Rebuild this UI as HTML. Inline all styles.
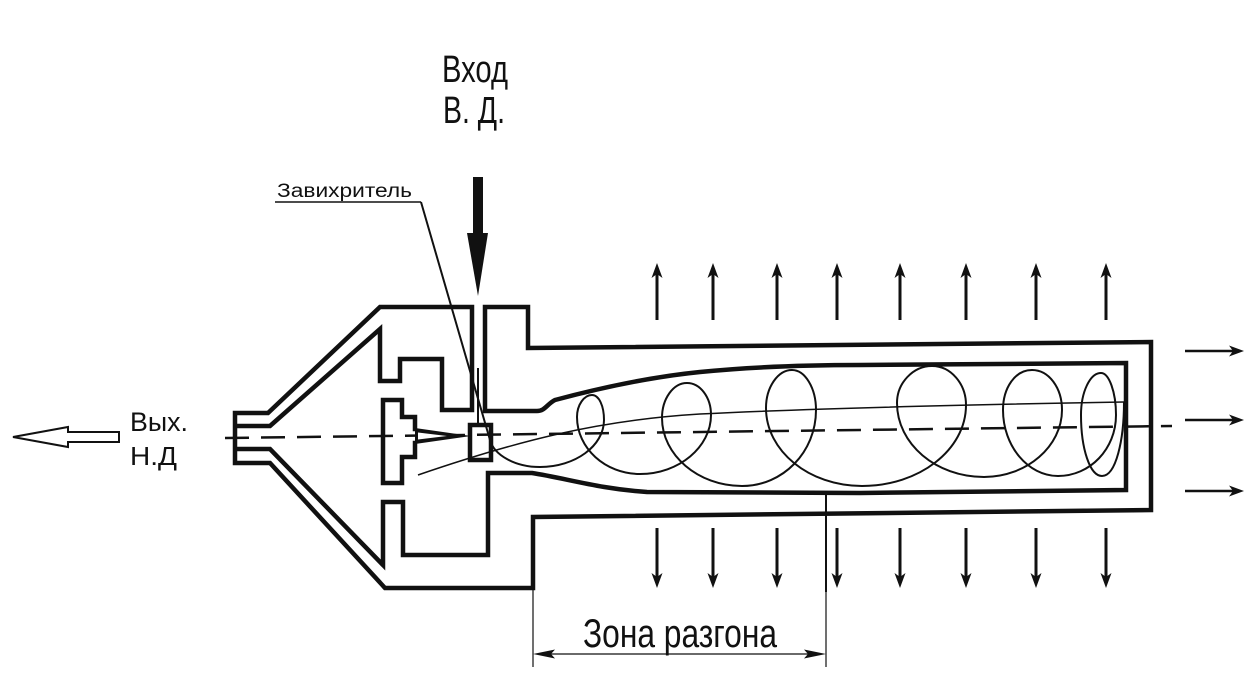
<!DOCTYPE html>
<html>
<head>
<meta charset="utf-8">
<style>
  html, body { margin:0; padding:0; background:#fff; }
  body { width:1246px; height:687px; overflow:hidden; }
  svg { display:block; }
  .gost { font-family: "Liberation Sans Narrow", "Liberation Sans", "DejaVu Sans", sans-serif; fill:#111; }
  .ar { font-family: "Liberation Sans", "DejaVu Sans", sans-serif; fill:#111; }
</style>
</head>
<body>
<svg width="1246" height="687" viewBox="0 0 1246 687" xmlns="http://www.w3.org/2000/svg">
  <rect width="1246" height="687" fill="#fff"/>

  <!-- Labels -->
  <text class="gost" x="442" y="82" font-size="38" textLength="66" lengthAdjust="spacingAndGlyphs">Вход</text>
  <text class="gost" x="443" y="123" font-size="38" textLength="62" lengthAdjust="spacingAndGlyphs">В. Д.</text>
  <text class="ar" x="277" y="197" font-size="19" textLength="135" lengthAdjust="spacingAndGlyphs">Завихритель</text>
  <text class="ar" x="130" y="431" font-size="27" textLength="58" lengthAdjust="spacingAndGlyphs">Вых.</text>
  <text class="ar" x="130" y="465" font-size="26" textLength="47" lengthAdjust="spacingAndGlyphs">Н.Д</text>
  <text class="gost" x="583" y="647" font-size="40" textLength="194" lengthAdjust="spacingAndGlyphs">Зона разгона</text>

  <!-- Hollow output arrow -->
  <polygon points="13,437 68,427 68,432 119,432 119,442 68,442 68,447" fill="#fff" stroke="#111" stroke-width="2" stroke-linejoin="miter"/>

  <!-- Thick input arrow -->
  <rect x="473" y="177" width="10" height="58" fill="#111"/>
  <polygon points="467,233 488,233 478,296" fill="#111"/>

  <!-- Dashed axis -->
  <line x1="225" y1="438" x2="1172" y2="426" stroke="#111" stroke-width="2.5" stroke-dasharray="24 12"/>

  <!-- Main body outline -->
  <g fill="none" stroke="#111" stroke-width="4.5" stroke-linejoin="miter" stroke-linecap="square">
    <path d="M235,426 L270,426 L380,329 L380,381 L400,381 L400,359 L442,359 L442,410 L472,410 L472,307 L380,307 L268,413 L235,413 L235,463 L270,463 L385,588 L533,588 L533,517 L1151,510 L1151,342 L528,348 L528,307 L485,307 L485,411 L537,411 C545,411 547,404 555,400 C600,388 650,377 700,372 C760,366 820,365 860,365 L1126,363 L1126,490 L860,493 L647,492 C600,489 565,478 532,473 L488,473 L488,555 L403,555 L403,502 L383,502 L383,565 L270,449 L235,449"/>
    <!-- center body -->
    <path d="M415,429 V417 H402 V400 H383 V483 H402 V457 H415 V443"/>
    <!-- swirler square -->
    <rect x="470" y="425" width="21" height="35"/>
  </g>

  <!-- cone of center body -->
  <polygon points="415,428 471,436 415,444" fill="#111"/>
  <polygon points="418,432.5 447,436 418,439.5" fill="#fff"/>

  <!-- thin vertical line in slot -->
  <line x1="478" y1="368" x2="478" y2="423" stroke="#111" stroke-width="2"/>

  <!-- leader underline -->
  <line x1="275" y1="202" x2="421" y2="202" stroke="#111" stroke-width="1.5"/>

  <!-- Leader + spiral trajectory -->
  <path fill="none" stroke="#111" stroke-width="2" d="M421,202 L490,440 C494,455 515,467 540,467
    C575,467 604,446 604,420
    C604,406 599,395 592,395
    C584,395 577,405 577,417
    C577,448 605,474 640,474
    C679,474 711,447 711,415
    C711,397 700,383 687,383
    C673,383 662,399 662,418
    C662,455 698,486 742,486
    C783,486 816,452 816,410
    C816,388 805,370 792,370
    C778,370 766,387 766,408
    C766,451 809,486 862,486
    C919,486 966,450 966,405
    C966,384 951,366 932,366
    C913,366 897,383 897,403
    C897,444 936,477 984,477
    C1027,477 1062,446 1062,410
    C1062,388 1049,370 1032,370
    C1015,370 1003,388 1003,410
    C1003,446 1028,476 1058,476
    C1090,476 1116,449 1116,415
    C1116,392 1109,373 1101,373
    C1090,373 1081,392 1081,415
    C1081,449 1090,476 1102,476
    C1116,476 1124,440 1124,402"/>

  <!-- thin axis-ish line -->
  <path fill="none" stroke="#111" stroke-width="1.5" d="M418,475 C520,440 600,420 700,414 C800,409 950,405 1124,402"/>

  <!-- Up arrows -->
  <g stroke="#111" stroke-width="3" fill="#111">
    <line x1="657" y1="320" x2="657" y2="274"/>
    <line x1="713" y1="320" x2="713" y2="274"/>
    <line x1="777" y1="320" x2="777" y2="274"/>
    <line x1="837" y1="320" x2="837" y2="274"/>
    <line x1="900" y1="320" x2="900" y2="274"/>
    <line x1="966" y1="320" x2="966" y2="274"/>
    <line x1="1036" y1="320" x2="1036" y2="274"/>
    <line x1="1106" y1="320" x2="1106" y2="274"/>
  </g>
  <g fill="#111">
    <polygon points="657,263 651.5,278 657,274 662.5,278"/>
    <polygon points="713,263 707.5,278 713,274 718.5,278"/>
    <polygon points="777,263 771.5,278 777,274 782.5,278"/>
    <polygon points="837,263 831.5,278 837,274 842.5,278"/>
    <polygon points="900,263 894.5,278 900,274 905.5,278"/>
    <polygon points="966,263 960.5,278 966,274 971.5,278"/>
    <polygon points="1036,263 1030.5,278 1036,274 1041.5,278"/>
    <polygon points="1106,263 1100.5,278 1106,274 1111.5,278"/>
  </g>

  <!-- Down arrows -->
  <g stroke="#111" stroke-width="3">
    <line x1="657" y1="528" x2="657" y2="578"/>
    <line x1="713" y1="528" x2="713" y2="578"/>
    <line x1="777" y1="528" x2="777" y2="578"/>
    <line x1="837" y1="528" x2="837" y2="578"/>
    <line x1="900" y1="528" x2="900" y2="578"/>
    <line x1="966" y1="528" x2="966" y2="578"/>
    <line x1="1036" y1="528" x2="1036" y2="578"/>
    <line x1="1106" y1="528" x2="1106" y2="578"/>
  </g>
  <g fill="#111">
    <polygon points="657,588 651.5,573 657,577 662.5,573"/>
    <polygon points="713,588 707.5,573 713,577 718.5,573"/>
    <polygon points="777,588 771.5,573 777,577 782.5,573"/>
    <polygon points="837,588 831.5,573 837,577 842.5,573"/>
    <polygon points="900,588 894.5,573 900,577 905.5,573"/>
    <polygon points="966,588 960.5,573 966,577 971.5,573"/>
    <polygon points="1036,588 1030.5,573 1036,577 1041.5,573"/>
    <polygon points="1106,588 1100.5,573 1106,577 1111.5,573"/>
  </g>

  <!-- Right arrows -->
  <g stroke="#111" stroke-width="2.5">
    <line x1="1185" y1="351" x2="1233" y2="351"/>
    <line x1="1185" y1="420" x2="1233" y2="420"/>
    <line x1="1185" y1="491" x2="1233" y2="491"/>
  </g>
  <g fill="#111">
    <polygon points="1244,351 1229,345.5 1233,351 1229,356.5"/>
    <polygon points="1244,420 1229,414.5 1233,420 1229,425.5"/>
    <polygon points="1244,491 1229,485.5 1233,491 1229,496.5"/>
  </g>

  <!-- Dimension "Зона разгона" -->
  <line x1="533" y1="588" x2="533" y2="667" stroke="#111" stroke-width="1.2"/>
  <line x1="826" y1="493" x2="826" y2="592" stroke="#111" stroke-width="2"/>
  <line x1="826" y1="592" x2="826" y2="667" stroke="#111" stroke-width="1.2"/>
  <line x1="540" y1="654" x2="819" y2="654" stroke="#111" stroke-width="1.2"/>
  <polygon points="533,654 555,649.5 551,654 555,658.5" fill="#111"/>
  <polygon points="826,654 804,649.5 808,654 804,658.5" fill="#111"/>
</svg>
</body>
</html>
